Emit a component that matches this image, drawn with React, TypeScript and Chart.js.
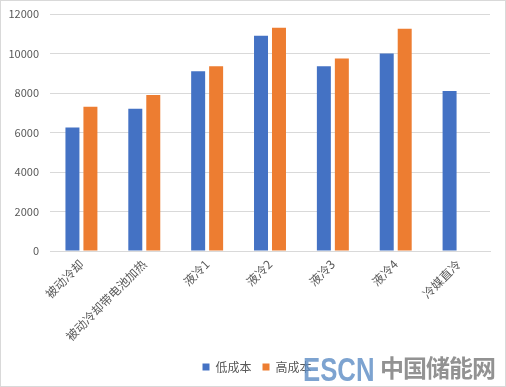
import React, { useEffect, useRef } from "react";
import { Chart, registerables } from "chart.js";

Chart.register(...registerables);

const categories = ["被动冷却", "被动冷却带电池加热", "液冷1", "液冷2", "液冷3", "液冷4", "冷媒直冷"];
const lowCost = [6250, 7200, 9100, 10900, 9350, 10000, 8100];
const highCost = [7300, 7900, 9350, 11300, 9750, 11250, null];
const seriesNames = ["低成本", "高成本"];
const yTicks = { min: 0, max: 12000, step: 2000 };

const FONT = "'Noto Sans CJK SC', 'Noto Sans', sans-serif";

const framePlugin = {
  id: "frame",
  afterLayout(chart: any) {
    const lg = chart.legend;
    if (lg) {
      lg.left += 12;
      lg.right += 12;
    }
  },
  afterDraw(chart: any) {
    const { ctx, width, height } = chart;
    ctx.save();
    ctx.strokeStyle = "#d9d9d9";
    ctx.lineWidth = 1;
    ctx.strokeRect(0.5, 0.5, width - 1, height - 1);
    ctx.restore();
  },
};

export default function App() {
  const ref = useRef<HTMLCanvasElement>(null);
  useEffect(() => {
    document.body.style.margin = "0";
    const chart = new Chart(ref.current!, {
      type: "bar",
      data: {
        labels: categories,
        datasets: [
          { label: seriesNames[0], data: lowCost, backgroundColor: "#4472C4" },
          { label: seriesNames[1], data: highCost as any, backgroundColor: "#ED7D31" },
        ],
      },
      options: {
        animation: false,
        responsive: false,
        maintainAspectRatio: false,
        layout: { padding: { left: 0, right: 16, top: 14, bottom: 4 } },
        datasets: { bar: { categoryPercentage: 0.572, barPercentage: 0.778 } },
        plugins: {
          legend: {
            position: "bottom",
            labels: {
              boxWidth: 7,
              boxHeight: 7,
              padding: 11,
              color: "#595959",
              font: { family: FONT, size: 12 },
            },
          },
          tooltip: { enabled: false },
        },
        scales: {
          x: {
            grid: { display: false, drawTicks: false },
            border: { display: true, color: "#d9d9d9" },
            ticks: {
              color: "#595959",
              font: { family: FONT, size: 12 },
              minRotation: 45,
              maxRotation: 45,
              padding: 6,
              autoSkip: false,
            },
            afterFit(scale: any) {
              scale.height = 99;
            },
          },
          y: {
            min: yTicks.min,
            max: yTicks.max,
            grid: { color: "#d9d9d9", drawTicks: false },
            border: { display: false },
            ticks: {
              stepSize: yTicks.step,
              color: "#595959",
              font: { family: FONT, size: 11 },
              padding: 11,
              callback: (v: any) => String(v),
            },
            afterFit(scale: any) {
              scale.width = 50;
              scale.paddingTop = 0;
              scale.paddingBottom = 0;
            },
          },
        },
      },
      plugins: [framePlugin],
    });
    return () => chart.destroy();
  }, []);

  return (
    <div style={{ position: "relative", width: 506, height: 387 }}>
      <canvas ref={ref} width={506} height={387} style={{ display: "block" }} />
      <span
        style={{
          position: "absolute",
          left: 303,
          top: 353,
          display: "inline-block",
          whiteSpace: "nowrap",
          pointerEvents: "none",
          lineHeight: 1,
          fontFamily: "'Liberation Sans', Arial, sans-serif",
          fontWeight: 700,
          fontSize: 33,
          color: "rgba(92,140,196,0.8)",
          transform: "scaleX(0.78)",
          transformOrigin: "left top",
        }}
      >
        ESCN
      </span>
      <span
        style={{
          position: "absolute",
          left: 380,
          top: 355,
          whiteSpace: "nowrap",
          pointerEvents: "none",
          lineHeight: 1,
          fontFamily: "'Noto Sans CJK SC', sans-serif",
          fontWeight: 700,
          fontSize: 24,
          letterSpacing: -1,
          color: "rgba(110,110,110,0.75)",
        }}
      >
        中国储能网
      </span>
    </div>
  );
}
